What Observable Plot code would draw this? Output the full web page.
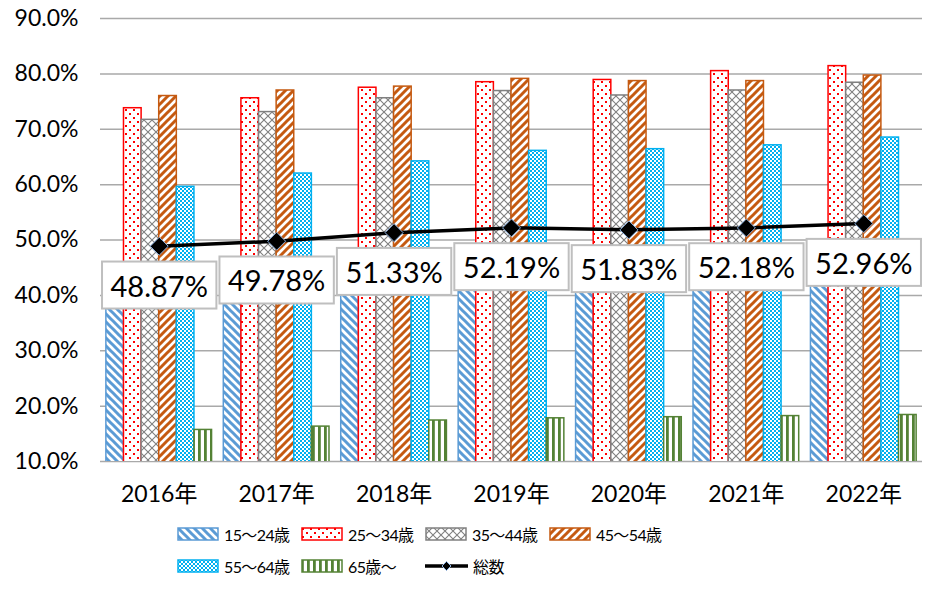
<!DOCTYPE html>
<html><head><meta charset="utf-8">
<script src="https://cdn.jsdelivr.net/npm/d3@7"></script>
<script src="https://cdn.jsdelivr.net/npm/@observablehq/plot@0.6"></script>
<style>
body{margin:0;background:#fff;font-family:Lato,"Noto Sans CJK JP",sans-serif;}
#chart{width:932px;height:510px;}
#legend{display:grid;grid-template-columns:repeat(4,124px);grid-auto-rows:32px;margin-left:177px;padding-top:8px;}
.item{display:flex;align-items:center;font-size:16px;letter-spacing:-0.6px;color:#000;white-space:nowrap;}
.item svg{margin-right:5px;flex:none;}
</style></head><body>
<svg width="0" height="0" style="position:absolute">
<defs>
<pattern id="p1" patternUnits="userSpaceOnUse" width="8" height="8"><rect width="8" height="8" fill="#fff"/><path d="M0,0L8,8M-4,4L4,12M4,-4L12,4" stroke="#5b9bd5" stroke-width="3"/></pattern>
<pattern id="p2" patternUnits="userSpaceOnUse" width="8" height="8"><rect width="8" height="8" fill="#fff"/><rect x="1" y="1" width="2" height="2" fill="#ff0000"/><rect x="5" y="5" width="2" height="2" fill="#ff0000"/></pattern>
<pattern id="p3" patternUnits="userSpaceOnUse" width="8" height="8"><rect width="8" height="8" fill="#fff"/><path d="M0,0L8,8M8,0L0,8" stroke="#808080" stroke-width="1.1"/></pattern>
<pattern id="p4" patternUnits="userSpaceOnUse" width="8" height="8"><rect width="8" height="8" fill="#fff"/><path d="M0,8L8,0M-4,4L4,-4M4,12L12,4" stroke="#c55a11" stroke-width="3"/></pattern>
<pattern id="p5" patternUnits="userSpaceOnUse" width="4" height="4"><rect width="4" height="4" fill="#fff"/><rect x="0" y="0" width="2" height="2" fill="#00b0f0"/><rect x="2" y="2" width="2" height="2" fill="#00b0f0"/></pattern>
<pattern id="p6" patternUnits="userSpaceOnUse" width="6" height="6"><rect width="6" height="6" fill="#fff"/><rect x="0" y="0" width="2.8" height="6" fill="#548235"/></pattern>
</defs></svg>
<div id="chart"></div>
<div id="legend"></div>
<script>
// ---- data ----
const years = ["2016", "2017", "2018", "2019", "2020", "2021", "2022"];
const ageGroups = ["15～24歳", "25～34歳", "35～44歳", "45～54歳", "55～64歳", "65歳～"];
const totalName = "総数";
const r15_24 = [42.3, 44.1, 46.9, 47.3, 46.0, 46.3, 47.6]; // mostly hidden behind labels (estimated)
const r25_34 = [73.8, 75.6, 77.5, 78.5, 78.9, 80.5, 81.4];
const r35_44 = [71.7, 73.1, 75.6, 76.9, 76.1, 77.0, 78.4];
const r45_54 = [76.0, 77.0, 77.7, 79.1, 78.7, 78.7, 79.7];
const r55_64 = [59.6, 62.0, 64.2, 66.1, 66.4, 67.1, 68.5];
const r65 = [15.7, 16.3, 17.4, 17.8, 18.0, 18.2, 18.4];
const total = [48.87, 49.78, 51.33, 52.19, 51.83, 52.18, 52.96];
const yTicks = [10, 20, 30, 40, 50, 60, 70, 80, 90];

// ---- styles ----
const seriesValues = [r15_24, r25_34, r35_44, r45_54, r55_64, r65];
const colors = ["#5b9bd5", "#ff0000", "#808080", "#c55a11", "#00b0f0", "#548235"];
const patterns = ["p1", "p2", "p3", "p4", "p5", "p6"];

const rows = ageGroups.flatMap((a, i) => years.map((y, j) => ({year: y, age: a, v: seriesValues[i][j]})));
const totalRows = years.map((y, j) => ({year: y, v: total[j]}));

const font = 'Lato, "Noto Sans CJK JP", sans-serif';
const base = {
  width: 932, height: 510,
  marginLeft: 100, marginRight: 10, marginTop: 18, marginBottom: 49,
  style: {fontFamily: font, fontSize: "23px", color: "#000", background: "#fff"},
  x: {domain: years, paddingInner: 0.1, paddingOuter: 0.05, round: false, tickSize: 0, tickPadding: 24, label: null, tickFormat: d => d + "年"},
  y: {domain: [10, 90], ticks: yTicks, tickSize: 0, tickPadding: 22, label: null, tickFormat: d => d.toFixed(1) + "%"}
};

const probe = Plot.plot({...base, marks: [Plot.tickY(totalRows, {x: "year", y: "v"})]});
const bw = probe.scale("x").bandwidth;
const w = bw / ageGroups.length;

const barMarks = ageGroups.map((a, i) => Plot.barY(rows.filter(d => d.age === a), {
  x: "year", y: "v",
  fill: `url(#${patterns[i]})`, stroke: colors[i], strokeWidth: 1.5,
  insetLeft: i * w, insetRight: (ageGroups.length - 1 - i) * w,
  clip: true
}));

const chart = Plot.plot({
  ...base,
  marks: [
    Plot.ruleY(yTicks, {stroke: "#a9a9a9", strokeWidth: 1.5}),
    ...barMarks,
    Plot.line(totalRows, {x: "year", y: "v", stroke: "#000", strokeWidth: 3.5}),
    Plot.dot(totalRows, {x: "year", y: "v", symbol: "diamond2", r: 8.1, fill: "#000", stroke: "#8eb4e3", strokeWidth: 1}),
    Plot.text(totalRows, {x: "year", y: "v", text: d => d.v.toFixed(2) + "%", dy: 41, fontSize: 29, fill: "#000"})
  ]
});
document.getElementById("chart").appendChild(chart);

// boxes behind the data labels
const svgRect = chart.getBoundingClientRect();
const textGroup = chart.querySelector('g[aria-label="text"]');
if (textGroup) {
  const ns = "http://www.w3.org/2000/svg";
  const g = document.createElementNS(ns, "g");
  textGroup.querySelectorAll("text").forEach(t => {
    const b = t.getBoundingClientRect();
    const cx = b.left - svgRect.left + b.width / 2;
    const cy = b.top - svgRect.top + b.height / 2;
    const r = document.createElementNS(ns, "rect");
    const bw2 = b.width + 17, bh = 47;
    r.setAttribute("x", cx - bw2 / 2);
    r.setAttribute("y", cy - bh / 2);
    r.setAttribute("width", bw2);
    r.setAttribute("height", bh);
    r.setAttribute("fill", "#fff");
    r.setAttribute("stroke", "#bfbfbf");
    r.setAttribute("stroke-width", "2");
    g.appendChild(r);
  });
  textGroup.parentNode.insertBefore(g, textGroup);
}

// legend
const legend = document.getElementById("legend");
ageGroups.forEach((a, i) => {
  const item = document.createElement("div");
  item.className = "item";
  item.innerHTML = `<svg width="42" height="14"><rect x="1" y="1" width="40" height="12" fill="url(#${patterns[i]})" stroke="${colors[i]}" stroke-width="1.5"/></svg><span>${a}</span>`;
  legend.appendChild(item);
});
const tItem = document.createElement("div");
tItem.className = "item";
tItem.innerHTML = `<svg width="43" height="14"><line x1="0" y1="7" x2="43" y2="7" stroke="#000" stroke-width="3.5"/><path d="M21.5,2.5L26,7L21.5,11.5L17,7Z" fill="#000" stroke="#8eb4e3" stroke-width="1"/></svg><span>${totalName}</span>`;
legend.appendChild(tItem);
</script>
</body></html>
